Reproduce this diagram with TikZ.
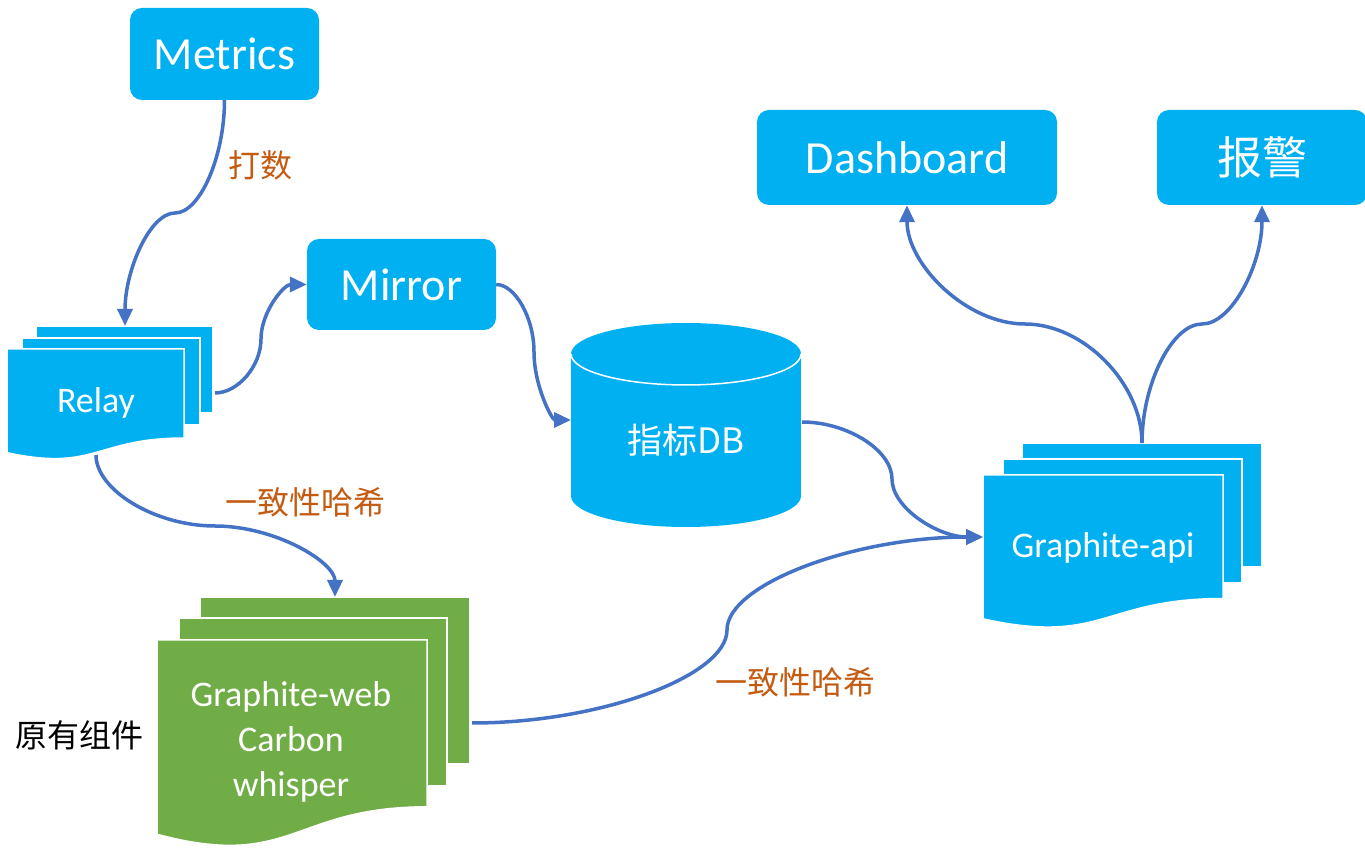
\documentclass[tikz,border=0pt]{standalone}
\usepackage{fontspec}
\setmainfont{Carlito}
\newfontfamily\cjk{Noto Sans CJK SC}
\usetikzlibrary{arrows.meta}
\definecolor{boxblue}{HTML}{00B0F0}
\definecolor{boxgreen}{HTML}{70AD47}
\definecolor{linkblue}{HTML}{4472C4}
\definecolor{labelorange}{HTML}{C55A11}
% back sheet: x1 y1 x2 y2 colour
\newcommand{\sheetback}[5]{\filldraw[fill=#5,draw=white,line width=1.5pt] (#1,#2) rectangle (#3,#4);}
% front sheet with wavy bottom: left right top height colour
\newcommand{\sheetfront}[5]{\filldraw[fill=#5,draw=white,line width=1.5pt] (#1,#3) -- (#2,#3) -- (#2,{#3-0.802*#4})
  .. controls ({(#1+#2)/2},{#3-0.802*#4}) and ({(#1+#2)/2},{#3-1.1075*#4}) .. (#1,{#3-0.934*#4}) -- cycle;}

\begin{document}
\begin{tikzpicture}[x=1pt,y=1pt,
link/.style={-{Triangle[length=17pt,width=15pt]},draw=linkblue,line width=3.5pt},
box/.style={rectangle,rounded corners=12pt,fill=boxblue,text=white,
  font=\fontsize{46}{54}\selectfont},
doctext/.style={text=white,font=\fontsize{36}{45}\selectfont,align=center},
hashlabel/.style={text=labelorange,font=\cjk\fontsize{32}{38}\selectfont}
]
\fill[white] (0,0) rectangle (1365,849);
\useasboundingbox (0,0) rectangle (1365,849);

% document stacks
\sheetback{36}{436}{213}{523}{boxblue}
\sheetback{22}{424}{200}{511}{boxblue}
\sheetfront{7}{184}{500}{111}{boxblue}
\sheetback{200}{85}{470}{252}{boxgreen}
\sheetback{179}{63}{447}{231}{boxgreen}
\sheetfront{157}{427}{209}{208}{boxgreen}
\sheetback{1022}{282}{1262}{406}{boxblue}
\sheetback{1003}{266}{1242}{390}{boxblue}
\sheetfront{983}{1223}{374}{154}{boxblue}

% database
\fill[boxblue] (571,353) rectangle (801,495);
\fill[boxblue] (686,353) ellipse [x radius=115,y radius=31];
\fill[boxblue] (686,495) ellipse [x radius=115,y radius=31];
\draw[white,line width=1.5pt] (571,495) arc [start angle=180,end angle=360,x radius=115,y radius=31];

\node[box,minimum width=189pt,minimum height=92pt] (metrics) at (224.5,795) {Metrics};
\node[box,minimum width=189pt,minimum height=91pt] (mirror) at (401.5,564.5) {Mirror};
\node[box,minimum width=300pt,minimum height=95pt] (dashboard) at (907,691.5) {Dashboard};
\node[box,minimum width=210pt,minimum height=95pt,font=\cjk\fontsize{45}{54}\selectfont] (alarm) at (1262,691.5) {报警};
\node[doctext] (relay) at (96,446) {Relay};
\node[doctext] (web) at (291,107) {Graphite-web\\Carbon\\whisper};
\node[doctext] (api) at (1103,301) {Graphite-api};
\node[doctext,font=\cjk\fontsize{35}{42}\selectfont] (db) at (686,409) {指标DB};

\coordinate (relayT) at (125,523);
\coordinate (relayR) at (215,456);
\coordinate (relayB) at (96,394);
\coordinate (webT) at (335,252);
\coordinate (webR) at (472,126);
\coordinate (dbL) at (571,429);
\coordinate (dbR) at (802,427);
\coordinate (apiL) at (983,312);
\coordinate (apiT) at (1142,406);

\draw[link] (metrics.south) to[out=-90,in=0,out distance=56pt,in distance=25pt] (175,636)
  to[out=180,in=90,out distance=25pt,in distance=56pt] (relayT);
\draw[link] (relayR) to[out=0,in=-90,out distance=23pt,in distance=27pt] (261,510)
  to[out=90,in=180,out distance=27pt,in distance=23pt] (mirror.west);
\draw[link] (mirror.east) to[out=0,in=90,out distance=19pt,in distance=34pt] (534,497)
  to[out=-90,in=180,out distance=34pt,in distance=19pt] (dbL);
\draw[link] (dbR) to[out=0,in=90,out distance=45pt,in distance=29pt] (892,370)
  to[out=-90,in=180,out distance=29pt,in distance=45pt] (apiL);
\draw[link] (webR) to[out=0,in=-90,out distance=128pt,in distance=46pt] (727,219)
  to[out=90,in=180,out distance=46pt,in distance=128pt] (apiL);
\draw[link] (relayB) to[out=-90,in=180,out distance=35pt,in distance=60pt] (215,323)
  to[out=0,in=90,out distance=60pt,in distance=35pt] (webT);
\draw[link] (apiT) to[out=90,in=0,out distance=59pt,in distance=59pt] (1025,525)
  to[out=180,in=-90,out distance=59pt,in distance=59pt] (dashboard.south);
\draw[link] (apiT) to[out=90,in=180,out distance=59pt,in distance=30pt] (1202,525)
  to[out=0,in=-90,out distance=30pt,in distance=59pt] (alarm.south);

\node[hashlabel] (dashu) at (260,684) {打数};
\node[hashlabel] (hash1) at (305,347) {一致性哈希};
\node[hashlabel] (hash2) at (795,167) {一致性哈希};
\node[font=\cjk\fontsize{32}{38}\selectfont] (legacy) at (80,114) {原有组件};
\end{tikzpicture}
\end{document}
